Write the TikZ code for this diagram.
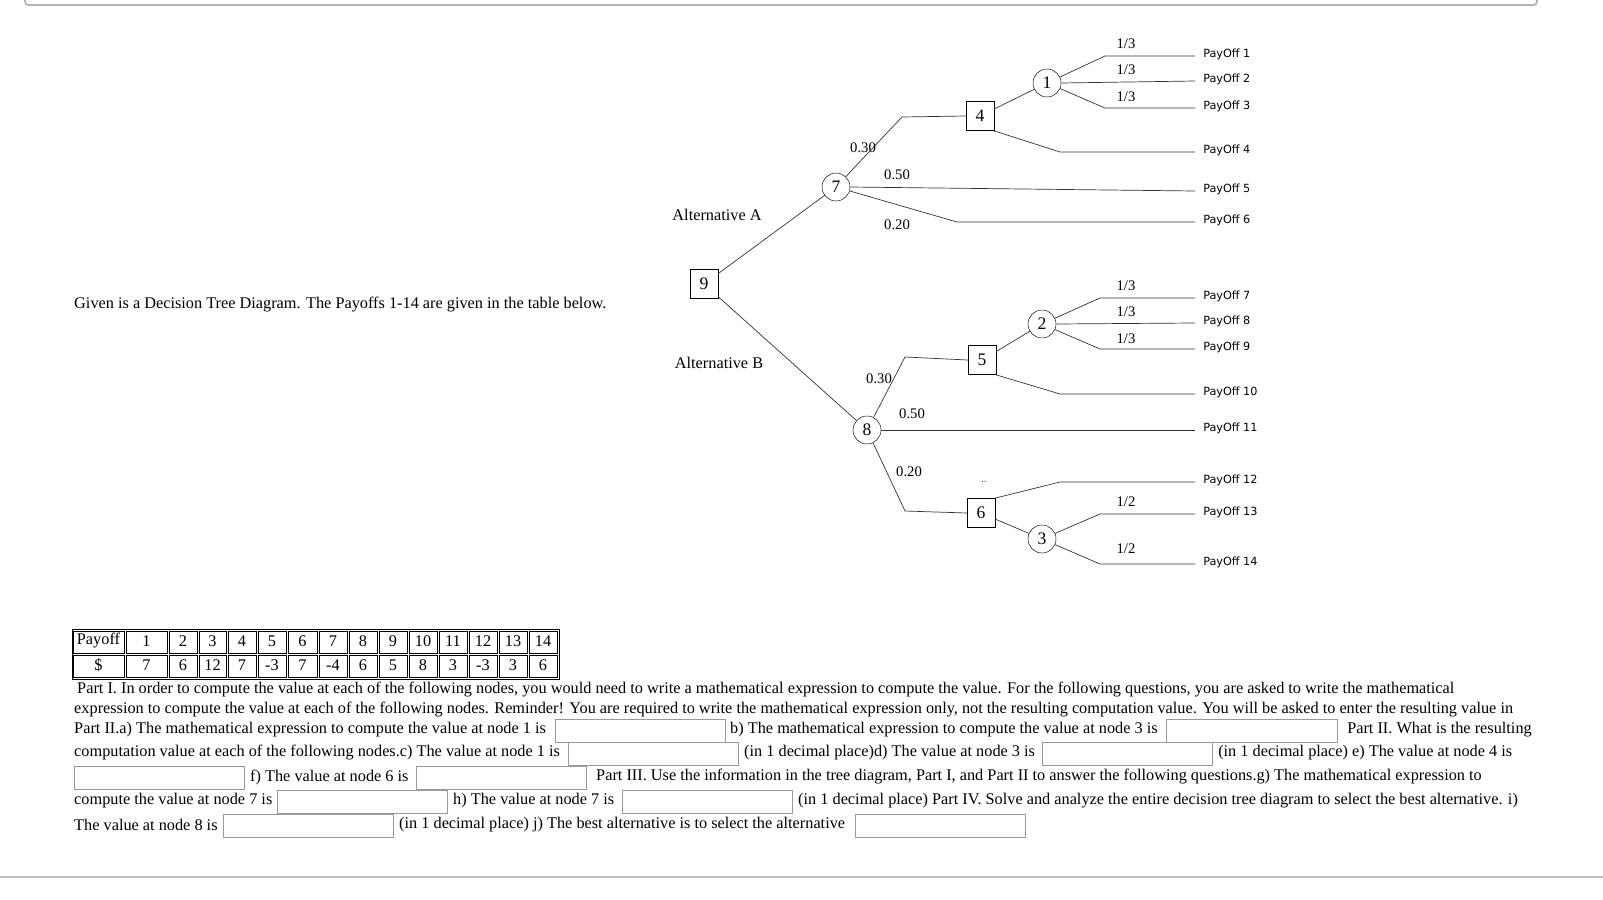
\documentclass[tikz,border=0pt]{standalone}
\usepackage{fontspec}
\setmainfont{Liberation Serif}
\newfontfamily\payfont{DejaVu Sans}
\begin{document}
\begin{tikzpicture}[x=0.03cm,y=-0.03cm,
  every node/.style={inner sep=0pt},
  sq/.style={draw,minimum width=0.84cm,minimum height=0.88cm,font=\fontsize{15}{17}\selectfont},
  cir/.style={draw,circle,minimum size=0.84cm,font=\fontsize{15}{17}\selectfont},
  br/.style={line width=0.6pt,black!80},
  pay/.style={anchor=west,font=\payfont\fontsize{9.6}{10}\selectfont},
  prob/.style={font=\fontsize{12.5}{14}\selectfont},
  txt/.style={anchor=west,font=\fontsize{13.9}{15}\selectfont},
  fld/.style={draw,black!40,line width=0.6pt},
  cell/.style={draw,line width=0.7pt}]
\useasboundingbox (0,0) rectangle (1603,899);
\draw[black!30,line width=1.5pt,rounded corners=3pt] (25,0) -- (25,5) -- (1537,5) -- (1537,0);
\draw[black!25,line width=1pt] (0,877) -- (1603,877);

% tree nodes
\node[sq] (n9) at (704,284) {9};
\node[cir] (n7) at (836,187) {7};
\node[sq] (n4) at (980,116) {4};
\node[cir] (n1) at (1047,83) {1};
\node[cir] (n8) at (867,430) {8};
\node[sq] (n5) at (982,360) {5};
\node[cir] (n2) at (1042,324) {2};
\node[sq] (n6) at (981,513) {6};
\node[cir] (n3) at (1042,539) {3};

\foreach \i/\y in {1/56,2/81,3/108,4/152,5/191,6/222,7/298,8/323,9/349,10/394,11/430,12/482,13/514,14/564}{
  \coordinate (e\i) at (1195,\y);
  \node[pay] (p\i) at (1203,\y-2) {PayOff \i};
}

\draw[br] (n9) -- (n7);
\draw[br] (n9) -- (n8);
\draw[br] (n7) -- (902,117) -- (n4.west);
\draw[br] (n7.east) -- (e5);
\draw[br] (n7) -- (957,222) -- (e6);
\draw[br] (n4) -- (n1);
\draw[br] (n4.south east) -- (1060,152) -- (e4);
\draw[br] (n1) -- (1105,56) -- (e1);
\draw[br] (n1.east) -- (e2);
\draw[br] (n1) -- (1105,108) -- (e3);
\draw[br] (n8) -- (905,357) -- (n5.west);
\draw[br] (n5) -- (n2);
\draw[br] (n5.south east) -- (1060,394) -- (e10);
\draw[br] (n2) -- (1100,298) -- (e7);
\draw[br] (n2.east) -- (e8);
\draw[br] (n2) -- (1100,349) -- (e9);
\draw[br] (n8.east) -- (e11);
\draw[br] (n8) -- (905,511) -- (n6.west);
\draw[br] (n6.north east) -- (1060,482) -- (e12);
\draw[br] (n6) -- (n3);
\draw[br] (n3) -- (1100,514) -- (e13);
\draw[br] (n3) -- (1100,564) -- (e14);

\node[prob] (a1) at (1126,44) {1/3};
\node[prob] (a2) at (1126,70) {1/3};
\node[prob] (a3) at (1126,97) {1/3};
\node[prob] (b1) at (1126,286) {1/3};
\node[prob] (b2) at (1126,312) {1/3};
\node[prob] (b3) at (1126,339) {1/3};
\node[prob] (c1) at (1126,502) {1/2};
\node[prob] (c2) at (1126,549) {1/2};
\node[prob] (q1) at (863,148) {0.30};
\node[prob] (q2) at (897,175) {0.50};
\node[prob] (q3) at (897,225) {0.20};
\node[prob] (q4) at (879,379) {0.30};
\node[prob] (q5) at (912,414) {0.50};
\node[prob] (q6) at (909,472) {0.20};
\node[font=\fontsize{8}{8}\selectfont] (dd) at (984,482) {..};
\node[font=\fontsize{13.9}{15}\selectfont] (altA) at (717,215) {Alternative A};
\node[font=\fontsize{13.9}{15}\selectfont] (altB) at (719,363) {Alternative B};
\node[txt] (given) at (74,305) {Given is a Decision Tree Diagram. The Payoffs 1-14 are given in the table below.};

% table
\draw[line width=0.8pt] (72,629) rectangle (559,679);
\foreach \a/\b/\t/\v in {73/124/Payoff/\$,126/167/1/7,169/197/2/6,199/226/3/12,228/256/4/7,258/286/5/-3,288/317/6/7,319/347/7/-4,349/377/8/6,379/407/9/5,409/437/10/8,439/467/11/3,469/497/12/-3,499/527/13/3,529/557/14/6}{
  \draw[cell] (\a+0.5,631) rectangle (\b,653);
  \draw[cell] (\a+0.5,655) rectangle (\b,677);
  \node[font=\fontsize{13.9}{15}\selectfont] at ({(\a+\b)/2},641) {\t};
  \node[font=\fontsize{13.9}{15}\selectfont] at ({(\a+\b)/2},665) {\v};
}

% text lines
\node[txt] (l1) at (77,690) {Part I. In order to compute the value at each of the following nodes, you would need to write a mathematical expression to compute the value. For the following questions, you are asked to write the mathematical};
\node[txt] (l2) at (74,710) {expression to compute the value at each of the following nodes. Reminder! You are required to write the mathematical expression only, not the resulting computation value. You will be asked to enter the resulting value in};
\node[txt] (l3a) at (74,730) {Part II.a) The mathematical expression to compute the value at node 1 is};
\draw[fld] (555,719) rectangle (725,742);
\node[txt] (l3b) at (730,730) {b) The mathematical expression to compute the value at node 3 is};
\draw[fld] (1166,719) rectangle (1337,742);
\node[txt] (l3c) at (1347,730) {Part II. What is the resulting};
\node[txt] (l4a) at (74,753) {computation value at each of the following nodes.c) The value at node 1 is};
\draw[fld] (568,742) rectangle (738,765);
\node[txt] (l4b) at (744,753) {(in 1 decimal place)d) The value at node 3 is};
\draw[fld] (1042,742) rectangle (1212,765);
\node[txt] (l4c) at (1218,753) {(in 1 decimal place) e) The value at node 4 is};
\draw[fld] (74,766) rectangle (244,789);
\node[txt] (l5a) at (250,777) {f) The value at node 6 is};
\draw[fld] (416,766) rectangle (586,789);
\node[txt] (l5b) at (596,777) {Part III. Use the information in the tree diagram, Part I, and Part II to answer the following questions.g) The mathematical expression to};
\node[txt] (l6a) at (74,801) {compute the value at node 7 is};
\draw[fld] (277,790) rectangle (447,813);
\node[txt] (l6b) at (453,801) {h) The value at node 7 is};
\draw[fld] (622,790) rectangle (792,813);
\node[txt] (l6c) at (798,801) {(in 1 decimal place) Part IV. Solve and analyze the entire decision tree diagram to select the best alternative. i)};
\node[txt] (l7a) at (74,825) {The value at node 8 is};
\draw[fld] (223,814) rectangle (393,837);
\node[txt] (l7b) at (399,825) {(in 1 decimal place) j) The best alternative is to select the alternative};
\draw[fld] (855,814) rectangle (1025,837);
\end{tikzpicture}
\end{document}
